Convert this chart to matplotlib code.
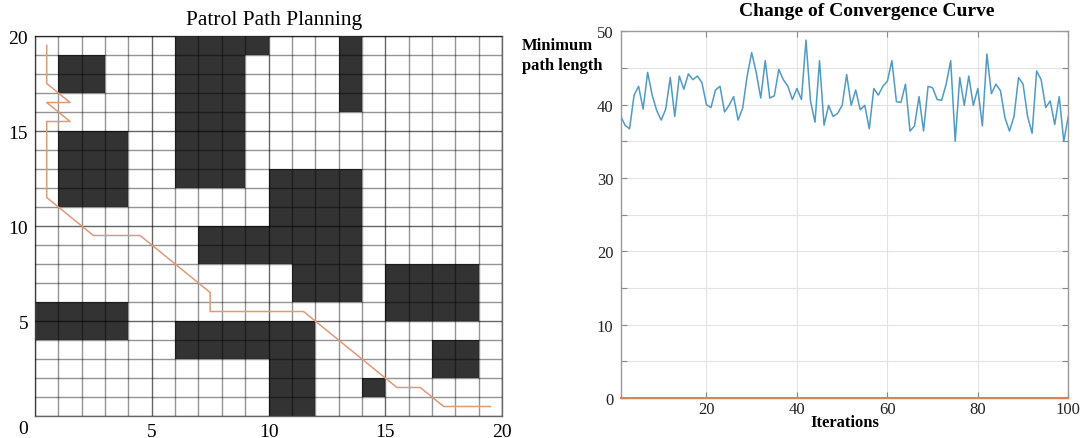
import numpy as np
import matplotlib.pyplot as plt
from matplotlib.colors import ListedColormap

# obstacle map, top row (y = 19) first, '#' = blocked cell
obstacle_rows = [
    "......####...#......",
    ".##...###....#......",
    ".##...###....#......",
    "......###....#......",
    "......###...........",
    ".###..###...........",
    ".###..###...........",
    ".###..###.####......",
    ".###......####......",
    "..........####......",
    ".......#######......",
    ".......#######......",
    "...........###.####.",
    "...........###.####.",
    "####...........####.",
    "####..######........",
    "......######.....##.",
    "..........##.....##.",
    "..........##..#.....",
    "..........##........",
]

# patrol path through cell centres
path_x = [0.5, 0.5, 0.5, 1.5, 0.5, 1.5, 0.5, 0.5, 0.5, 0.5, 0.5, 1.5, 2.5, 3.5,
          4.5, 5.5, 6.5, 7.5, 7.5, 8.5, 9.5, 10.5, 11.5, 12.5, 13.5, 14.5,
          15.5, 16.5, 17.5, 18.5, 19.5]
path_y = [19.5, 18.5, 17.5, 16.5, 16.5, 15.5, 15.5, 14.5, 13.5, 12.5, 11.5,
          10.5, 9.5, 9.5, 9.5, 8.5, 7.5, 6.5, 5.5, 5.5, 5.5, 5.5, 5.5, 4.5,
          3.5, 2.5, 1.5, 1.5, 0.5, 0.5, 0.5]

# convergence curve
min_path_len = [38.5, 37.2, 36.7, 41.3, 42.5, 39.4, 44.4, 41.3, 39.2, 37.9,
                39.4, 43.7, 38.4, 43.9, 42.1, 44.2, 43.4, 43.9, 43.0, 40.0,
                39.6, 42.0, 42.5, 39.0, 39.9, 41.1, 37.9, 39.5, 43.9, 47.1,
                44.4, 40.9, 46.0, 40.9, 41.2, 44.8, 43.4, 42.5, 40.7, 42.2,
                40.7, 48.8, 40.5, 37.6, 46.0, 37.2, 39.9, 38.4, 38.8, 39.9,
                44.1, 39.9, 42.0, 39.3, 39.9, 36.7, 42.2, 41.3, 42.5, 43.2,
                46.0, 40.4, 40.3, 42.8, 36.4, 37.1, 41.1, 36.4, 42.5, 42.3,
                40.7, 40.6, 42.8, 46.0, 35.0, 43.7, 39.9, 43.9, 39.9, 42.2,
                37.1, 46.9, 41.5, 42.8, 41.9, 38.2, 36.4, 38.4, 43.7, 42.8,
                38.4, 36.1, 44.6, 43.4, 39.6, 40.5, 37.3, 41.1, 35.0, 38.4]
zero_line = [0] * 100
iterations = list(range(1, 101))

plt.rcParams['font.family'] = ['Liberation Serif', 'DejaVu Serif']

fig = plt.figure(figsize=(10.85, 4.39), dpi=100)

# ---------------- left: grid map ----------------
ax1 = fig.add_axes([0.0323, 0.0501, 0.4304, 0.8656])
occ = np.array([[c == '#' for c in row] for row in obstacle_rows[::-1]], dtype=int)
ax1.pcolormesh(np.arange(21), np.arange(21), occ,
               cmap=ListedColormap(['white', '#333333']), vmin=0, vmax=1)
ax1.plot(path_x, path_y, color='#df9a78', lw=1.1, zorder=3)
ax1.set_xlim(0, 20)
ax1.set_ylim(0, 20)
ax1.set_xticks([5, 10, 15, 20])
ax1.set_yticks([5, 10, 15, 20])
ax1.set_xticks(np.arange(0, 21), minor=True)
ax1.set_yticks(np.arange(0, 21), minor=True)
ax1.set_axisbelow(False)
ax1.grid(which='minor', color='black', alpha=0.42, lw=1)
ax1.grid(which='major', color='black', alpha=0.6, lw=1)
ax1.tick_params(which='both', length=0, labelsize=14, pad=5)
for s in ax1.spines.values():
    s.set_color('#666666')
    s.set_linewidth(1)
fig.text(23 / 1085, 1 - 430 / 439, '0', fontsize=14, ha='center', va='center')
fig.text(274 / 1085, 1 - 20 / 439, 'Patrol Path Planning', fontsize=15.5,
         ha='center', va='center')

# ---------------- right: convergence curve ----------------
ax2 = fig.add_axes([0.5719, 0.0911, 0.4127, 0.8353])
ax2.plot(iterations, min_path_len, color='#4f9bc6', lw=1.1)
ax2.plot(iterations, zero_line, color='#d9825b', lw=1.5, clip_on=False, zorder=4)
ax2.set_xlim(1, 100)
ax2.set_ylim(0, 50)
ax2.set_xticks([20, 40, 60, 80, 100])
ax2.set_yticks(np.arange(0, 51, 5))
ax2.set_yticklabels([str(v) if v % 10 == 0 else '' for v in range(0, 51, 5)])
ax2.grid(True, color='#e3e3e3', lw=0.8)
ax2.tick_params(direction='in', top=True, right=True, labelsize=12,
                length=4, color='#888888', labelcolor='#222222')
ax2.tick_params(axis='x', pad=2)
ax2.tick_params(axis='y', pad=5)
for s in ax2.spines.values():
    s.set_color('#999999')
    s.set_linewidth(1)
ax2.set_xlabel('Iterations', fontsize=12, fontweight='bold', labelpad=-2)
fig.text(522 / 1085, 1 - 56 / 439, 'Minimum\npath length', fontsize=12,
         fontweight='bold', ha='left', va='center', linespacing=1.3)
fig.text(867 / 1085, 1 - 12 / 439, 'Change of Convergence Curve', fontsize=14,
         fontweight='bold', ha='center', va='center')

fig.savefig('out.png', dpi=100)
